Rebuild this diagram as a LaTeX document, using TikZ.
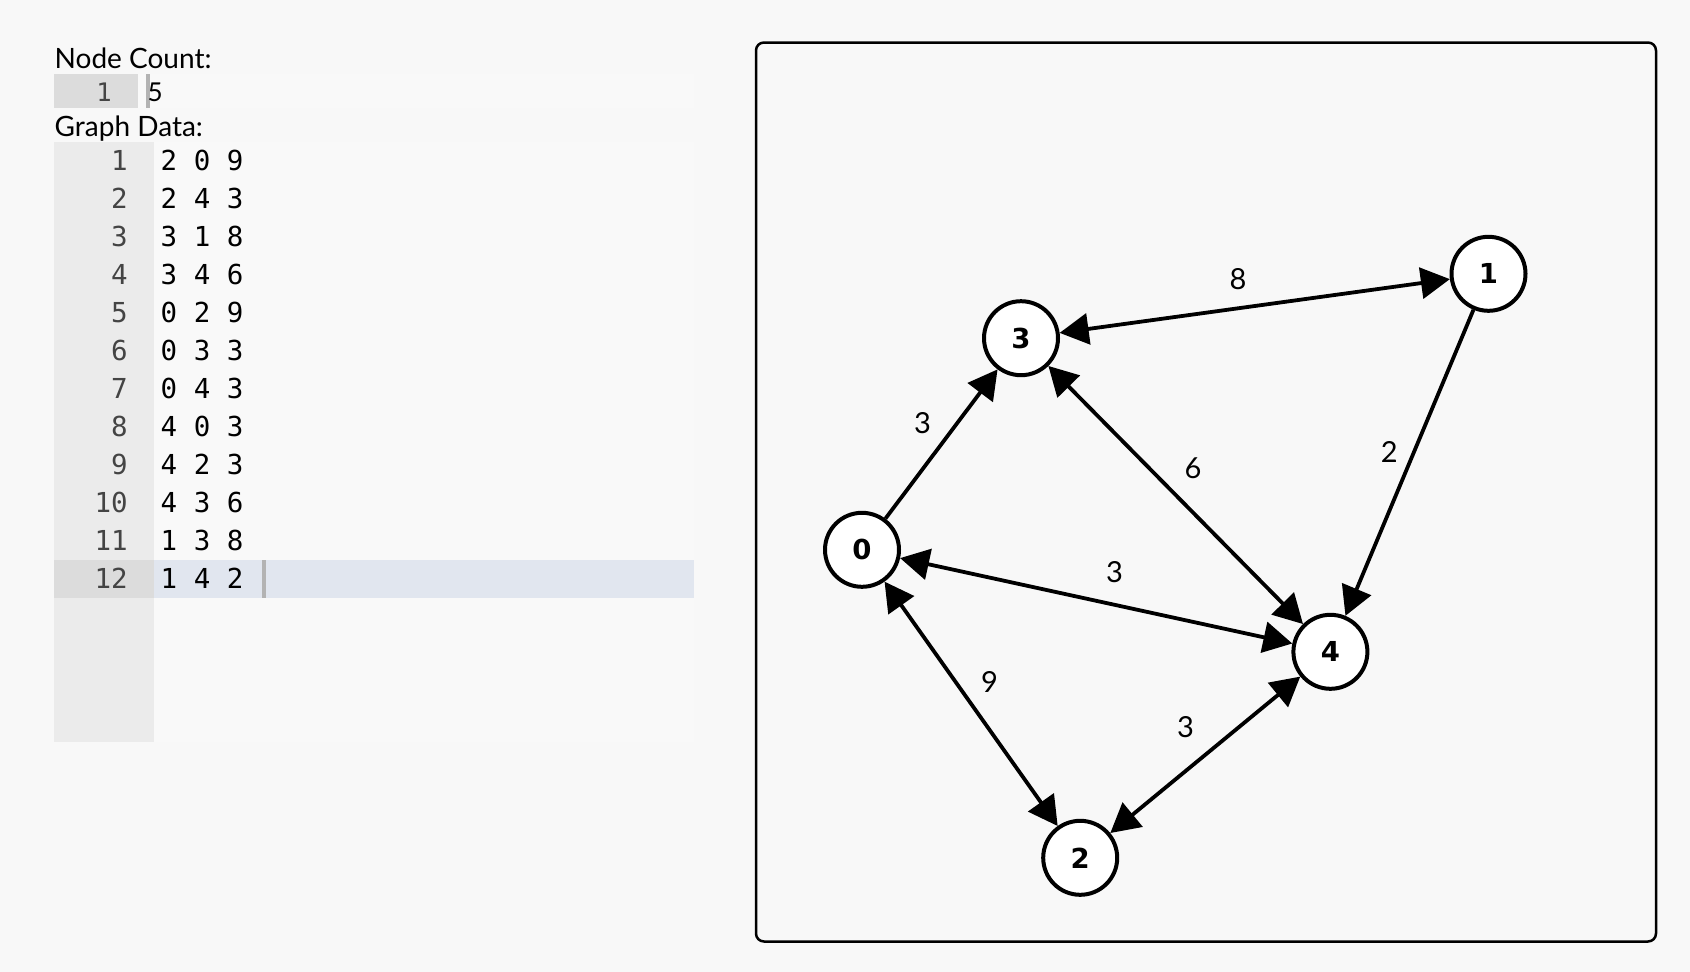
\documentclass[tikz,border=0pt]{standalone}
\usepackage{fontspec}
\setmainfont{Lato}
\newfontfamily\monofont{DejaVu Sans Mono}
\newfontfamily\vertexfont{DejaVu Sans}
\usetikzlibrary{arrows.meta}

\definecolor{pagebg}{HTML}{F8F8F8}
\definecolor{editorbg}{HTML}{F9F9F9}
\definecolor{gutterbg}{HTML}{EBEBEB}
\definecolor{gutteractive}{HTML}{DCDCDC}
\definecolor{lineactive}{HTML}{E1E6EF}
\definecolor{cursorgray}{HTML}{B3B3B3}
\definecolor{linenum}{HTML}{444444}

\tikzset{
  heading/.style={anchor=base west, inner sep=0pt, font=\fontsize{28}{34}\selectfont},
  lnum/.style={anchor=base east, inner sep=0pt, text=linenum, font=\monofont\fontsize{27.5}{33}\selectfont},
  code/.style={anchor=base west, inner sep=0pt, font=\monofont\fontsize{27.5}{33}\selectfont},
  vertex/.style={circle, draw=black, fill=white, line width=4pt, minimum size=74pt,
    inner sep=0pt, font=\vertexfont\bfseries\fontsize{27.5}{32}\selectfont},
  edge/.style={line width=3.8pt, draw=black},
  tipped/.style={edge, -{Triangle[length=29pt,width=31pt]}},
  both/.style={edge, {Triangle[length=29pt,width=31pt]}-{Triangle[length=29pt,width=31pt]}},
  weight/.style={inner sep=0pt, font=\fontsize{29}{34}\selectfont},
}

\begin{document}
\begin{tikzpicture}[x=1pt, y=-1pt]
  % canvas
  \fill[pagebg] (0,0) rectangle (1690,972);
  \useasboundingbox (0,0) rectangle (1690,972);

  % ---- node count editor ----
  \node[heading] (hcount) at (54.5,68.3) {Node Count:};
  \fill[editorbg] (138,74.3) rectangle (694,107.7);
  \fill[gutteractive] (54,74.3) rectangle (138,107.7);
  \node[lnum, font=\monofont\fontsize{25.5}{30}\selectfont] (cnum) at (112,101.7) {1};
  \fill[cursorgray] (146,74.3) rectangle (149.5,107.7);
  \node[anchor=base west, inner sep=0pt, font=\fontsize{26}{30}\selectfont] (cval) at (147.5,101.7) {5};

  % ---- graph data editor ----
  \node[heading] (hdata) at (54.5,136) {Graph Data:};
  \fill[editorbg] (154,141.7) rectangle (694,741.7);
  \fill[gutterbg] (54,141.7) rectangle (154,741.7);
  \fill[gutteractive] (54,559.7) rectangle (154,597.7);
  \fill[lineactive] (154,559.7) rectangle (694,597.7);
  \foreach \i/\txt in {1/2 0 9, 2/2 4 3, 3/3 1 8, 4/3 4 6, 5/0 2 9, 6/0 3 3,
                       7/0 4 3, 8/4 0 3, 9/4 2 3, 10/4 3 6, 11/1 3 8, 12/1 4 2}{
    \node[lnum] (num\i) at (128,{170+(\i-1)*38}) {\i};
    \node[code] (row\i) at (160.5,{170+(\i-1)*38}) {\txt};
  }
  \fill[cursorgray] (262,559.7) rectangle (265.5,597.7);

  % ---- graph view ----
  \draw[line width=2.5pt, rounded corners=8pt] (756,42.5) rectangle (1656,941.5);

  \node[vertex] (n0) at (862,549.8) {0};
  \node[vertex] (n1) at (1488.5,273.8) {1};
  \node[vertex] (n2) at (1080.2,857.8) {2};
  \node[vertex] (n3) at (1021,338.2) {3};
  \node[vertex] (n4) at (1330.4,651.8) {4};

  \draw[tipped] (n0) -- (n3);
  \draw[both] (n3) -- (n1);
  \draw[both] (n3) -- (n4);
  \draw[tipped] (n1) -- (n4);
  \draw[both] (n0) -- (n4);
  \draw[both] (n0) -- (n2);
  \draw[both] (n2) -- (n4);

  \node[weight] (w03) at (922.6,423.6) {3};
  \node[weight] (w31) at (1238,279) {8};
  \node[weight] (w34) at (1193,467.8) {6};
  \node[weight] (w14) at (1389.3,451.6) {2};
  \node[weight] (w04) at (1114.5,572.3) {3};
  \node[weight] (w02) at (989.4,682.2) {9};
  \node[weight] (w24) at (1185.6,727.5) {3};
\end{tikzpicture}
\end{document}
